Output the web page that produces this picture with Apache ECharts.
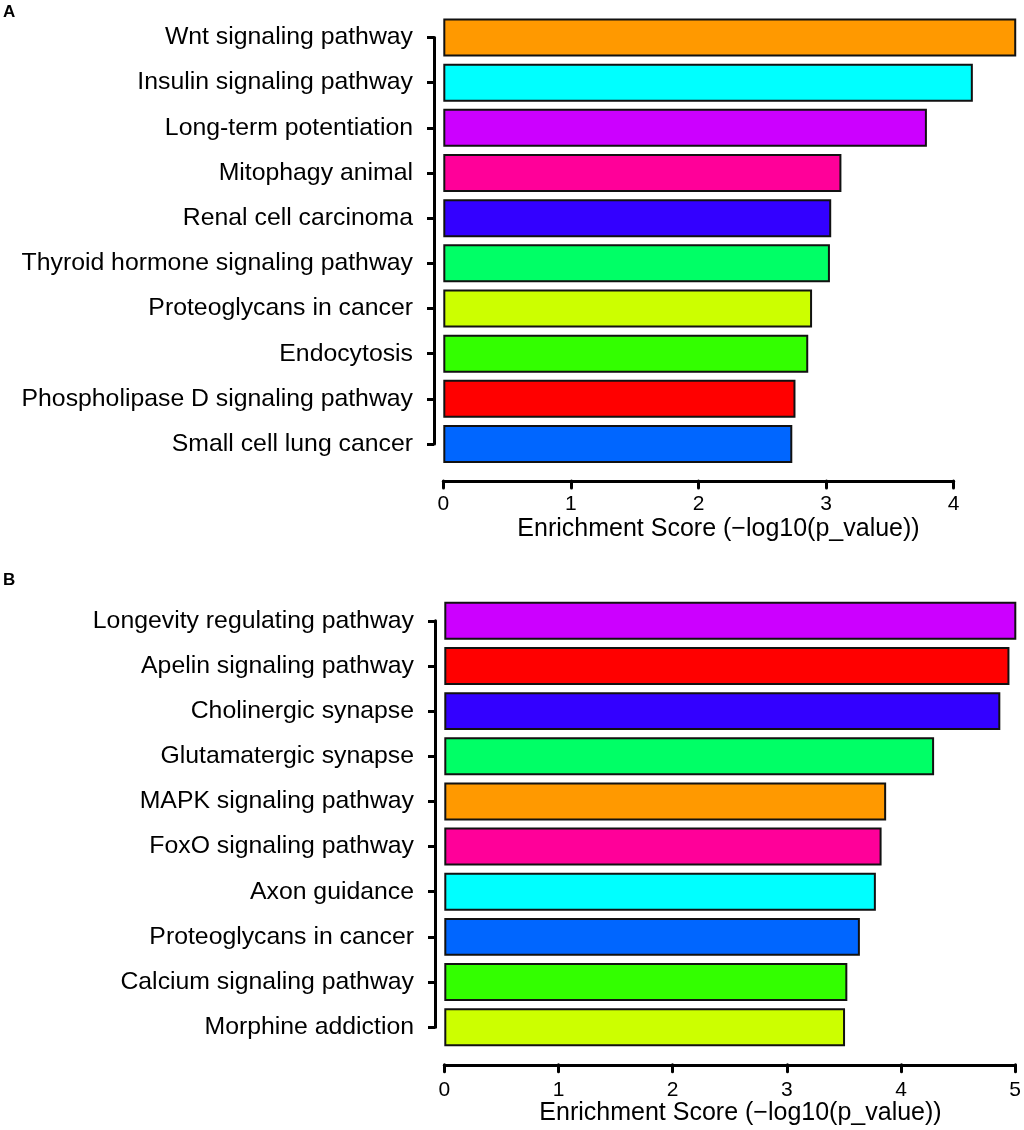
<!DOCTYPE html>
<html><head><meta charset="utf-8">
<script src="https://cdn.jsdelivr.net/npm/echarts@6/dist/echarts.min.js"></script>
<style>html,body{margin:0;padding:0;background:#fff}#c{width:1024px;height:1130px}</style>
</head><body><div id="c"></div>
<script>
const categoriesA = ["Wnt signaling pathway","Insulin signaling pathway","Long-term potentiation","Mitophagy animal","Renal cell carcinoma","Thyroid hormone signaling pathway","Proteoglycans in cancer","Endocytosis","Phospholipase D signaling pathway","Small cell lung cancer"];
const valuesA = [4.49, 4.15, 3.79, 3.12, 3.04, 3.03, 2.89, 2.86, 2.76, 2.735];
const colorsA = ["#FF9900","#00FFFF","#CC00FF","#FF0099","#3300FF","#00FF66","#CCFF00","#33FF00","#FF0000","#0066FF"];

const categoriesB = ["Longevity regulating pathway","Apelin signaling pathway","Cholinergic synapse","Glutamatergic synapse","MAPK signaling pathway","FoxO signaling pathway","Axon guidance","Proteoglycans in cancer","Calcium signaling pathway","Morphine addiction"];
const valuesB = [5.01, 4.95, 4.87, 4.29, 3.87, 3.83, 3.78, 3.64, 3.53, 3.51];
const colorsB = ["#CC00FF","#FF0000","#3300FF","#00FF66","#FF9900","#FF0099","#00FFFF","#0066FF","#33FF00","#CCFF00"];

const xTicksMaxA = 4;
const xTicksMaxB = 5;
const xTitle = "Enrichment Score (\u2212log10(p_value))";

const FONT = "Liberation Sans, Arial, sans-serif";
const black = "#000";

function panel(gi, cfg) {
  const step = cfg.height / 10;
  const grids = [
    {left: cfg.left, top: cfg.top, width: cfg.unit * cfg.xmax, height: cfg.height},
    {left: cfg.axisX, top: cfg.top + step / 2, width: 20, height: step * 9}
  ];
  const xAxes = [
    {type: 'value', gridIndex: gi, min: 0, max: cfg.xmax, interval: 1, offset: cfg.xOffset,
     axisLine: {show: true, lineStyle: {color: black, width: 3, cap: 'round'}},
     axisTick: {show: true, length: 7, lineStyle: {color: black, width: 3, cap: 'round'}},
     axisLabel: {color: black, fontSize: 21, margin: cfg.xLabelMargin, fontFamily: FONT},
     splitLine: {show: false}},
    {type: 'value', gridIndex: gi + 1, show: false, min: 0, max: 1}
  ];
  const yAxes = [
    {type: 'category', gridIndex: gi, data: cfg.cats, inverse: true, show: false},
    {type: 'category', gridIndex: gi + 1, data: cfg.cats, inverse: true, boundaryGap: false,
     axisLine: {show: true, lineStyle: {color: black, width: 3}},
     axisTick: {show: true, length: 7, alignWithLabel: true, lineStyle: {color: black, width: 3}},
     axisLabel: {color: black, fontSize: 24.8, margin: 21, fontFamily: FONT, interval: 0},
     splitLine: {show: false}}
  ];
  const series = [{
    type: 'bar', xAxisIndex: gi, yAxisIndex: gi, clip: false,
    barCategoryGap: '16%',
    itemStyle: {borderColor: '#111', borderWidth: 2},
    data: cfg.vals.map((v, i) => ({value: v, itemStyle: {color: cfg.colors[i]}})),
    silent: true
  }];
  return {grids, xAxes, yAxes, series};
}

const pA = panel(0, {left: 443.3, top: 14.9, height: 451.7, unit: 127.6, xmax: xTicksMaxA, axisX: 434,
  xOffset: 14.4, xLabelMargin: 12.5, cats: categoriesA, vals: valuesA, colors: colorsA});
const pB = panel(2, {left: 444.3, top: 598.2, height: 451.6, unit: 114.34, xmax: xTicksMaxB, axisX: 435,
  xOffset: 15, xLabelMargin: 14.5, cats: categoriesB, vals: valuesB, colors: colorsB});

const option = {
  animation: false,
  backgroundColor: '#fff',
  textStyle: {fontFamily: FONT},
  title: [
    {text: 'A', left: 3, top: 4, padding: 0, textStyle: {fontSize: 17, fontWeight: 'bold', color: black, fontFamily: FONT}},
    {text: 'B', left: 3, top: 572, padding: 0, textStyle: {fontSize: 17, fontWeight: 'bold', color: black, fontFamily: FONT}},
    {text: xTitle, left: 718.5, top: 516.5, padding: 0, textAlign: 'center', textStyle: {fontSize: 25, fontWeight: 'normal', color: black, fontFamily: FONT}},
    {text: xTitle, left: 740.5, top: 1101, padding: 0, textAlign: 'center', textStyle: {fontSize: 25, fontWeight: 'normal', color: black, fontFamily: FONT}}
  ],
  grid: pA.grids.concat(pB.grids),
  xAxis: pA.xAxes.concat(pB.xAxes),
  yAxis: pA.yAxes.concat(pB.yAxes),
  series: pA.series.concat(pB.series)
};

const chart = echarts.init(document.getElementById('c'), null, {renderer: 'canvas'});
chart.setOption(option);
</script>
</body></html>
